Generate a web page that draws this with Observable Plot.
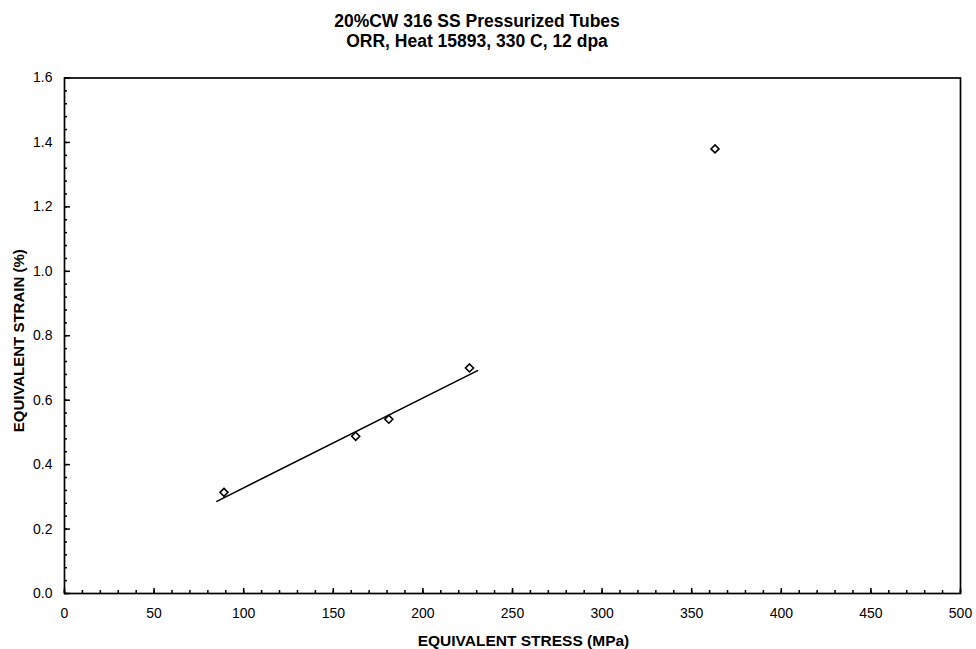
<!DOCTYPE html>
<html>
<head>
<meta charset="utf-8">
<script src="https://cdn.jsdelivr.net/npm/d3@7"></script>
<script src="https://cdn.jsdelivr.net/npm/@observablehq/plot@0.6"></script>
<style>
  html, body { margin: 0; padding: 0; background: #fff; }
  #wrap { width: 976px; height: 649px; position: relative; overflow: hidden; }
  #title { position: absolute; left: 0; top: 0; width: 954px; height: 60px; text-align: center;
           font-family: Arial, "Liberation Sans", sans-serif; font-weight: bold; font-size: 17.5px;
           line-height: 20px; padding-top: 11px; box-sizing: border-box; color: #000; }
  #chart { position: absolute; left: 0; top: 60px; }
</style>
</head>
<body>
<div id="wrap">
  <div id="title">20%CW 316 SS Pressurized Tubes<br>ORR, Heat 15893, 330 C, 12 dpa</div>
  <div id="chart"></div>
</div>
<script>
// Measured points
const stress = [89, 162.5, 181, 226, 363];
const strain = [0.314, 0.488, 0.541, 0.700, 1.380];
// Fitted line endpoints (as drawn)
const fitStress = [85, 230.5];
const fitStrain = [0.286, 0.692];
// Tick values
const xMajor = [0, 50, 100, 150, 200, 250, 300, 350, 400, 450, 500];
const xMinor = d3.range(0, 501, 10);
const yMajor = [0, 0.2, 0.4, 0.6, 0.8, 1.0, 1.2, 1.4, 1.6];
const yMinor = d3.range(0, 41).map(i => i * 0.04);
const xTitle = "EQUIVALENT STRESS (MPa)";
const yTitle = "EQUIVALENT STRAIN (%)";

const points = stress.map((s, i) => ({stress: s, strain: strain[i]}));
const fit = fitStress.map((s, i) => ({stress: s, strain: fitStrain[i]}));

const font = "Arial, 'Liberation Sans', sans-serif";

const chart = Plot.plot({
  width: 976,
  height: 589,
  marginTop: 17.5,
  marginBottom: 56,
  marginLeft: 64,
  marginRight: 16,
  style: {fontFamily: font, fontSize: "14px", color: "#000", background: "#fff"},
  x: {domain: [0, 500]},
  y: {domain: [0, 1.6]},
  marks: [
    Plot.frame({stroke: "#000", strokeWidth: 1.7}),
    // minor ticks
    Plot.axisX(xMinor, {tickSize: -3, text: null, label: null, strokeWidth: 1.5}),
    Plot.axisY(yMinor, {tickSize: -3, text: null, label: null, strokeWidth: 1.5}),
    // major ticks
    Plot.axisX(xMajor, {tickSize: -5, text: null, label: null, strokeWidth: 1.5}),
    Plot.axisY(yMajor, {tickSize: -6, text: null, label: null, strokeWidth: 1.5}),
    // labels
    Plot.axisX(xMajor, {tickSize: 0, tickPadding: 15, label: null, fontSize: 14}),
    Plot.axisY(yMajor, {tickSize: 0, tickPadding: 12, label: null, tickFormat: d3.format(".1f"), fontSize: 14}),
    Plot.text([xTitle], {frameAnchor: "bottom", dx: 11, dy: 52, fontWeight: "bold", fontSize: 15.5}),
    Plot.text([yTitle], {frameAnchor: "left", textAnchor: "middle", dx: -45, dy: 5, rotate: -90, fontWeight: "bold", fontSize: 15}),
    Plot.line(fit, {x: "stress", y: "strain", stroke: "#000", strokeWidth: 1.5}),
    Plot.dot(points, {x: "stress", y: "strain", symbol: "diamond2", r: 3.6, stroke: "#000", fill: "#fff", strokeWidth: 1.6})
  ]
});
document.getElementById("chart").appendChild(chart);
</script>
</body>
</html>
